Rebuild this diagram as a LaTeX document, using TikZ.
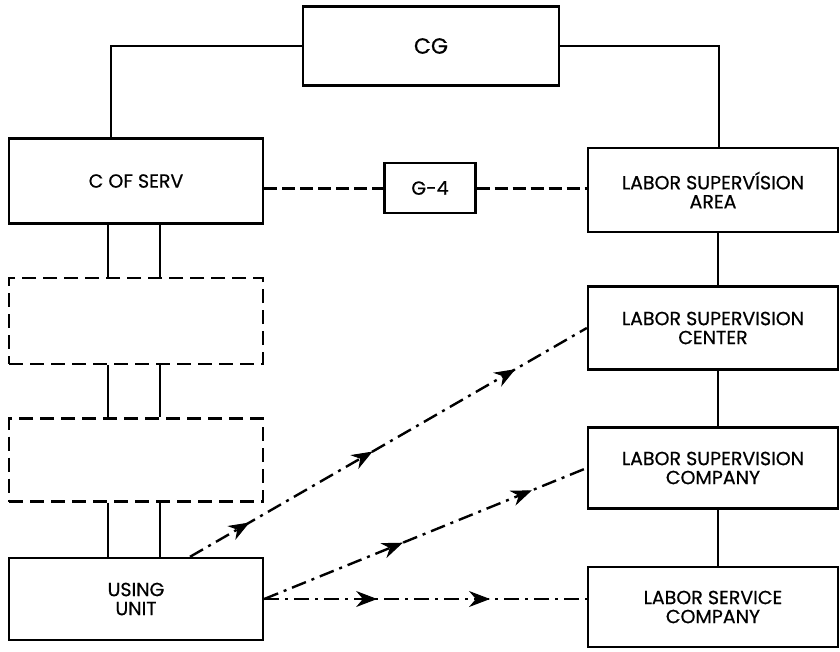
\documentclass[tikz,border=0pt]{standalone}
\usepackage{fontspec}
\setmainfont{Poppins}[FakeBold=0.6]
\usetikzlibrary{arrows.meta,decorations.markings,calc}

\begin{document}
\begin{tikzpicture}[x=1pt,y=-1pt,
    box/.style={draw, line width=2.4pt, rectangle, align=center, inner sep=0pt,
        minimum width=254pt, minimum height=83pt, font=\fontsize{19}{19}\selectfont},
    ghost/.style={box, dash pattern=on 14pt off 7pt},
    link/.style={line width=2.6pt},
    staff/.style={line width=3pt, dash pattern=on 13pt off 5pt},
    flow/.style={line width=2.4pt, dash pattern=on 15pt off 6pt on 3pt off 6pt},
    tip/.style={solid, line width=1pt}]
    \useasboundingbox (0,0) rectangle (840,651);

    % Command column on the left, labor column on the right.
    \node[box, minimum width=256pt, minimum height=79pt, font=\fontsize{22}{22}\selectfont] (cg) at (431,46) {CG};
    \node[box, minimum height=85pt] (cos) at (136,181) {C OF SERV};
    \node[ghost, minimum height=86pt] (upper) at (136,321) {};
    \node[ghost] (lower) at (136,460) {};
    \node[box, minimum height=82pt] (uu) at (136,599) {USING\\UNIT};
    \node[box, minimum width=91pt, minimum height=50pt] (g4) at (430,188) {G-4};
    \node[box, minimum width=250pt, minimum height=84pt] (lsa) at (713,190) {LABOR SUPERVÍSION\\AREA};
    \node[box, minimum width=250pt] (lsc) at (713,328) {LABOR SUPERVISION\\CENTER};
    \node[box, minimum width=250pt, minimum height=81pt] (lsco) at (713,468) {LABOR SUPERVISION\\COMPANY};
    \node[box, minimum width=250pt, minimum height=80pt] (lsvc) at (713,607) {LABOR SERVICE\\COMPANY};

    % Lines of command from the CG.
    \draw[link] (cg.west) -| ($(cos.north)+(-25,0)$);
    \draw[link] (cg.east) -| ($(lsa.north)+(6,0)$);

    % Double lines down the left column.
    \foreach \a/\b in {cos/upper, upper/lower, lower/uu} {
        \foreach \dx in {-28,24} {
            \draw[link] ($(\a.south)+(\dx,0)$) -- ($(\b.north)+(\dx,0)$);
        }
    }

    % Single line down the right column.
    \foreach \a/\b in {lsa/lsc, lsc/lsco, lsco/lsvc} {
        \draw[link] ($(\a.south)+(5,0)$) -- ($(\b.north)+(5,0)$);
    }

    % Staff line through G-4.
    \draw[staff] (g4.west -| cos.east) -- (g4.west);
    \draw[staff] (g4.east) -- (g4.east -| lsa.west);

    % Requests from the using unit, with arrows along the way.
    \draw[flow, postaction={decorate, decoration={markings,
            mark=at position 0.15 with {\arrow[tip]{Stealth[length=21pt,width=16pt]}},
            mark=at position 0.46 with {\arrow[tip]{Stealth[length=21pt,width=16pt]}},
            mark=at position 0.82 with {\arrow[tip]{Stealth[length=21pt,width=16pt]}}}}]
        ($(uu.north)+(54,0)$) -- (lsc.west);
    \draw[flow, postaction={decorate, decoration={markings,
            mark=at position 0.43 with {\arrow[tip]{Stealth[length=21pt,width=16pt]}},
            mark=at position 0.83 with {\arrow[tip]{Stealth[length=21pt,width=16pt]}}}}]
        (uu.east) -- (lsco.west);
    \draw[flow, postaction={decorate, decoration={markings,
            mark=at position 0.35 with {\arrow[tip]{Stealth[length=21pt,width=16pt]}},
            mark=at position 0.70 with {\arrow[tip]{Stealth[length=21pt,width=16pt]}}}}]
        (uu.east) -- (uu.east -| lsvc.west);
\end{tikzpicture}
\end{document}
